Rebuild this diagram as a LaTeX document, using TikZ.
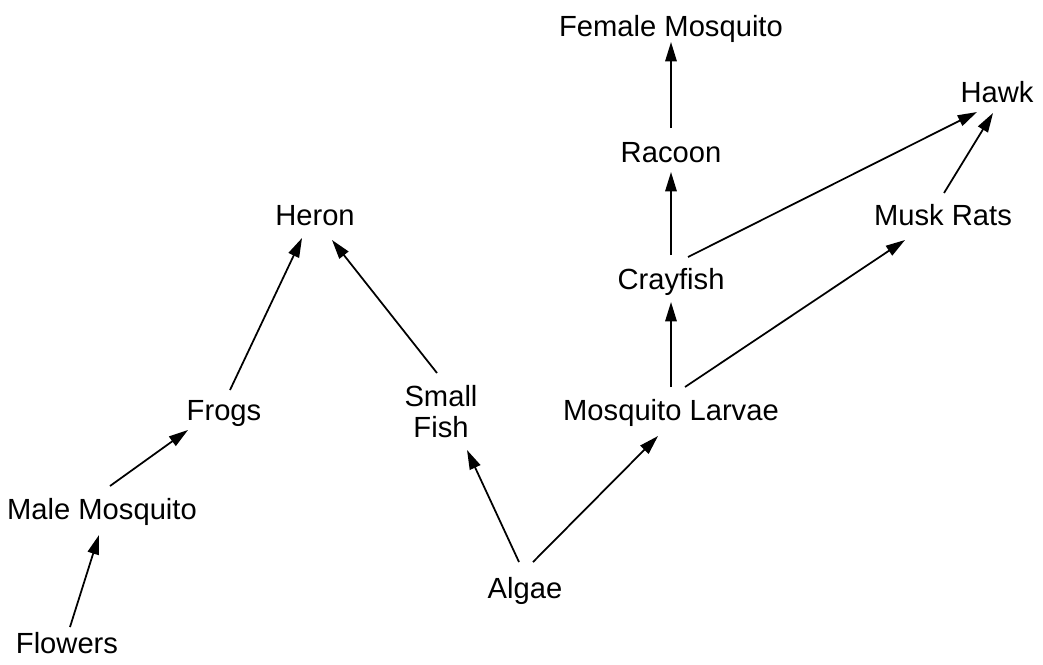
\documentclass[tikz,border=0pt]{standalone}
\usepackage{fontspec}
\setmainfont{Liberation Sans}
\usetikzlibrary{arrows.meta}

\begin{document}
\begin{tikzpicture}[x=0.02cm, y=-0.02cm,
        species/.style={inner sep=0pt, anchor=base, align=center,
            font=\fontsize{16.6}{17.6}\selectfont},
        eats/.style={line width=1pt, -{Triangle[length=11pt,width=6.5pt]}}]
        \useasboundingbox (0,0) rectangle (1043,664);

        % species
        \node[species] (female) at (671,36) {Female Mosquito};
        \node[species] (racoon) at (671,162) {Racoon};
        \node[species] (crayfish) at (671,289) {Crayfish};
        \node[species] (larvae) at (671,420) {Mosquito Larvae};
        \node[species] (hawk) at (997,102) {Hawk};
        \node[species] (musk) at (943,225) {Musk Rats};
        \node[species] (heron) at (315,225) {Heron};
        \node[species] (frogs) at (224,420) {Frogs};
        \node[species] (fish) at (441,437) {Small\\Fish};
        \node[species] (male) at (102,519) {Male Mosquito};
        \node[species] (algae) at (525,598) {Algae};
        \node[species] (flowers) at (67,653) {Flowers};

        % food chain
        \draw[eats] ([shift={(3,-26)}]flowers.base) -- ([shift={(-3,16)}]male.base);
        \draw[eats] ([shift={(8,-33)}]male.base) -- ([shift={(-36,10)}]frogs.base);
        \draw[eats] ([shift={(6,-30)}]frogs.base) -- ([shift={(-13,13)}]heron.base);
        \draw[eats] ([shift={(-4,-64)}]fish.base) -- ([shift={(17,15)}]heron.base);
        \draw[eats] ([shift={(-6,-36)}]algae.base) -- ([shift={(26,13)}]fish.base);
        \draw[eats] ([shift={(8,-36)}]algae.base) -- ([shift={(-13,16)}]larvae.base);
        \draw[eats] ([shift={(0,-33)}]larvae.base) -- ([shift={(0,13)}]crayfish.base);
        \draw[eats] ([shift={(14,-33)}]larvae.base) -- ([shift={(-38,15)}]musk.base);
        \draw[eats] ([shift={(0,-34)}]crayfish.base) -- ([shift={(0,10)}]racoon.base);
        \draw[eats] ([shift={(0,-34)}]racoon.base) -- ([shift={(0,6)}]female.base);
        \draw[eats] ([shift={(17,-32)}]crayfish.base) -- ([shift={(-20,10)}]hawk.base);
        \draw[eats] ([shift={(1,-32)}]musk.base) -- ([shift={(-4,11)}]hawk.base);
\end{tikzpicture}
\end{document}
